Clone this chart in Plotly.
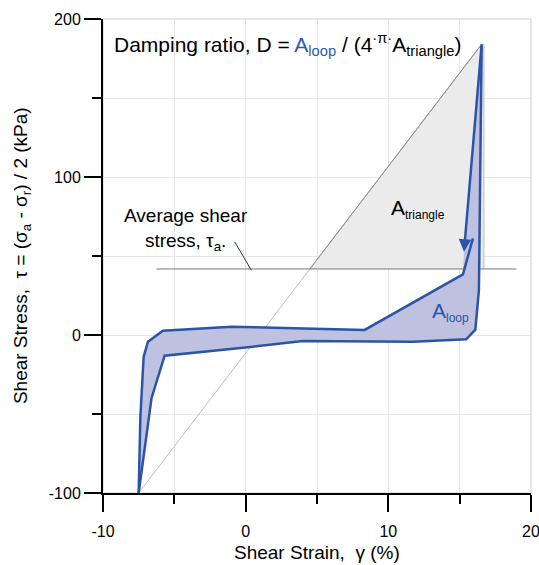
import plotly.graph_objects as go

# ---- data ----
# upper (loading) branch of the hysteresis loop
up_x = [-7.5, -7.38, -7.15, -6.85, -5.8, -1.0, 8.34, 15.23, 15.93]
up_y = [-100, -51.7, -13.7, -4.2, 2.7, 5.3, 3.2, 38.4, 61.2]
# from the peak down the right side, then the lower branch back to the tip
lo_x = [16.54, 16.45, 16.35, 16.1, 15.46, 11.73, 4.0, 0.5, -5.68, -6.6, -7.5]
lo_y = [184, 92, 28.5, 3.4, -2.7, -4.2, -3.8, -7.4, -13.1, -40, -100]
# arrow along the unloading edge (tail at peak, head)
arrow_tail = (16.54, 184)
arrow_head = (15.30, 52.7)
# average shear stress level and its line extent
tau_a = 41.8
tau_line_x = [-6.26, 18.97]
# triangle (gray)
tri_x = [4.5, 16.54, 16.7, 16.7]
tri_y = [41.8, 184, 184, 41.8]
# secant line from min to max
diag_x = [-7.5, 16.54]
diag_y = [-100, 184]
# leader line from the label
lead_x = [-0.77, 0.4]
lead_y = [59, 41]

x_ticks = [-10, 0, 10, 20]
y_ticks = [-100, 0, 100, 200]

BLUE = "#2B54A4"
FILL = "#BFC1E1"
FONT = "Liberation Sans, Arial, sans-serif"

fig = go.Figure()

# triangle
fig.add_trace(go.Scatter(x=tri_x, y=tri_y, fill="toself", fillcolor="#EBEBEB",
                         mode="lines", line=dict(color="#BBBBBB", width=1),
                         hoverinfo="skip", showlegend=False))
# secant diagonal
fig.add_trace(go.Scatter(x=diag_x, y=diag_y, mode="lines",
                         line=dict(color="#BDBDBD", width=1), showlegend=False))
# hypotenuse portion (darker)
fig.add_trace(go.Scatter(x=[tri_x[0], tri_x[1]], y=[tri_y[0], tri_y[1]], mode="lines",
                         line=dict(color="#909090", width=1), showlegend=False))
# tau_a line
fig.add_trace(go.Scatter(x=tau_line_x, y=[tau_a, tau_a], mode="lines",
                         line=dict(color="#777777", width=1), showlegend=False))
# leader line
fig.add_trace(go.Scatter(x=lead_x, y=lead_y, mode="lines",
                         line=dict(color="#333333", width=1), showlegend=False))

# loop fill
fill_x = up_x[:-1] + [arrow_head[0]] + lo_x
fill_y = up_y[:-1] + [arrow_head[1]] + lo_y
fig.add_trace(go.Scatter(x=fill_x, y=fill_y, fill="toself", fillcolor=FILL,
                         mode="lines", line=dict(width=0), hoverinfo="skip",
                         showlegend=False))
# loop outlines
fig.add_trace(go.Scatter(x=up_x, y=up_y, mode="lines",
                         line=dict(color=BLUE, width=2.5), showlegend=False))
fig.add_trace(go.Scatter(x=lo_x, y=lo_y, mode="lines",
                         line=dict(color=BLUE, width=2.5), showlegend=False))

# arrow
fig.add_annotation(x=arrow_head[0], y=arrow_head[1], ax=arrow_tail[0], ay=arrow_tail[1],
                   xref="x", yref="y", axref="x", ayref="y", text="",
                   showarrow=True, arrowhead=2, arrowsize=1.0, arrowwidth=2.5,
                   arrowcolor=BLUE)

# text
fig.add_annotation(xref="paper", yref="y", x=0.02, y=184, xanchor="left", yanchor="middle",
                   showarrow=False, font=dict(size=21, color="black", family=FONT),
                   text='Damping ratio, D = <span style="color:#2E5AAC">A</span>'
                        '<sub><span style="color:#2E5AAC">loop</span></sub> / (4'
                        '<sup>·π·</sup>A<sub>triangle</sub>)')
fig.add_annotation(x=-4.2, y=67, xref="x", yref="y", showarrow=False, align="center",
                   font=dict(size=19, color="black", family=FONT),
                   text="Average shear<br>stress, τ<sub>a</sub>.")
fig.add_annotation(x=10.05, y=80, xref="x", yref="y", xanchor="left", yanchor="middle",
                   showarrow=False, font=dict(size=21, color="black", family=FONT),
                   text='A<sub><span style="font-size:12px">triangle</span></sub>')
fig.add_annotation(x=12.95, y=14.5, xref="x", yref="y", xanchor="left", yanchor="middle",
                   showarrow=False, font=dict(size=21, color=BLUE, family=FONT),
                   text='A<sub><span style="font-size:12px">loop</span></sub>')

# axis titles
fig.add_annotation(xref="paper", yref="paper", x=0.5, y=-0.1245, yanchor="middle",
                   showarrow=False, font=dict(size=19, color="black", family=FONT),
                   text="Shear Strain,  γ (%)")
fig.add_annotation(xref="paper", yref="paper", x=-0.189, y=0.5, xanchor="center",
                   yanchor="middle", textangle=-90, showarrow=False,
                   font=dict(size=19, color="black", family=FONT),
                   text="Shear Stress,  τ = (σ<sub>a</sub> - σ<sub>r</sub>) / 2 (kPa)")

# light border on top/right
fig.add_shape(type="rect", xref="paper", yref="paper", x0=0, y0=0, x1=1, y1=1,
              line=dict(color="#CCCCCC", width=1), layer="below")

axis_common = dict(showline=True, linecolor="black", linewidth=2, ticks="outside",
                   ticklen=17, tickwidth=2, tickcolor="black", showgrid=True,
                   gridcolor="#E6E6E6", gridwidth=1, zeroline=False, automargin=False,
                   ticklabeloverflow="allow",
                   tickfont=dict(size=16, color="black", family=FONT))

fig.update_xaxes(range=[-10, 20], tickvals=x_ticks, ticktext=[str(v) for v in x_ticks],
                 minor=dict(dtick=5, ticklen=9, tickwidth=2, tickcolor="black",
                            ticks="outside", showgrid=True, gridcolor="#E6E6E6"),
                 ticklabelstandoff=6, **axis_common)
fig.update_yaxes(range=[-100, 200], tickvals=y_ticks, ticktext=[str(v) for v in y_ticks],
                 minor=dict(dtick=50, ticklen=9, tickwidth=2, tickcolor="black",
                            ticks="outside", showgrid=True, gridcolor="#E6E6E6"),
                 **axis_common)

fig.update_layout(width=539, height=565, margin=dict(l=103, r=8, t=19, b=72),
                  plot_bgcolor="white", paper_bgcolor="white",
                  font=dict(family=FONT, color="black"), showlegend=False)

fig.write_html("out.html", config={"displayModeBar": False},
               post_script="document.body.style.margin='0px';"
                           "document.body.style.padding='0px';"
                           "document.body.style.overflow='hidden';")
